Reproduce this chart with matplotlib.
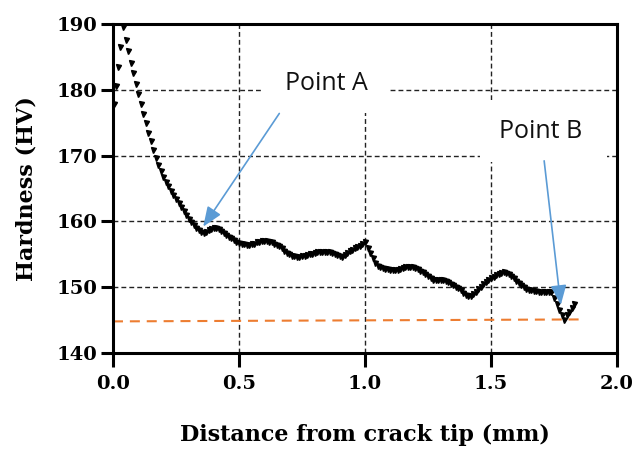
import matplotlib as mpl
import matplotlib.pyplot as plt
import numpy as np
from matplotlib.patches import Rectangle


#-------------------------------------------------------------------------------
# Hardness profile data
#-------------------------------------------------------------------------------

#Points right at the crack tip (rising part of the profile)
tip_distance = [0.005, 0.013, 0.021, 0.029]
tip_hardness = [177.8, 180.6, 183.5, 186.5]

#Main profile, sampled every 0.01 mm from 0.04 mm
profile_start = 0.04
profile_step = 0.01
profile_hardness = [
    189.5, 187.6, 185.9, 184.1, 182.5, 180.9, 179.3, 177.8, 176.3, 174.9,
    173.5, 172.2, 170.9, 169.7, 168.6, 167.6, 166.8, 166.0, 165.3, 164.6,
    164.0, 163.4, 162.8, 162.2, 161.6, 161.0, 160.4, 159.9, 159.4, 159.0,
    158.7, 158.4, 158.2, 158.4, 158.7, 158.9, 159.0, 159.0, 158.8, 158.5,
    158.2, 157.9, 157.6, 157.4, 157.2, 156.9, 156.7, 156.6, 156.5, 156.4,
    156.4, 156.5, 156.6, 156.8, 156.9, 157.0, 157.0, 157.0, 156.9, 156.8,
    156.6, 156.4, 156.2, 155.9, 155.5, 155.2, 155.0, 154.8, 154.7, 154.6,
    154.6, 154.7, 154.8, 154.9, 155.0, 155.1, 155.2, 155.3, 155.3, 155.3,
    155.3, 155.3, 155.3, 155.2, 155.1, 154.9, 154.7, 154.6, 154.9, 155.2,
    155.5, 155.7, 155.9, 156.1, 156.3, 156.5, 156.8, 156.0, 155.2, 154.4,
    153.7, 153.2, 153.0, 152.9, 152.8, 152.7, 152.6, 152.6, 152.6, 152.6,
    152.7, 152.9, 153.0, 153.1, 153.1, 153.0, 152.9, 152.7, 152.5, 152.3,
    152.0, 151.7, 151.4, 151.1, 151.1, 151.1, 151.1, 151.1, 151.0, 150.8,
    150.5, 150.3, 150.1, 149.8, 149.5, 149.1, 148.8, 148.6, 148.6, 148.9,
    149.3, 149.7, 150.1, 150.5, 150.8, 151.1, 151.4, 151.6, 151.8, 152.0,
    152.1, 152.3, 152.2, 152.0, 151.7, 151.4, 151.0, 150.7, 150.4, 150.1,
    149.7, 149.5, 149.5, 149.4, 149.4, 149.3, 149.3, 149.3, 149.3, 149.2,
    149.2, 148.3, 147.5, 146.6, 145.7, 145.0, 145.7, 146.3, 146.9, 147.5,
]

#Base metal hardness reference line
base_distance = [0.0, 1.87]
base_hardness = [144.8, 145.1]

#Annotated points (text position, arrow tail, arrow tip)
point_labels = ['Point A', 'Point B']
label_xy = [(0.845, 180.9), (1.698, 173.7)]
arrow_tail = [(0.66, 176.4), (1.711, 169.2)]
arrow_tip = [(0.358, 159.2), (1.777, 147.3)]
label_boxes = [(0.591, 176.5, 0.508, 13.5), (1.456, 169.0, 0.504, 9.45)]

x_ticks = [0.0, 0.5, 1.0, 1.5, 2.0]
y_ticks = [140, 150, 160, 170, 180, 190]


#-------------------------------------------------------------------------------
# Plot
#-------------------------------------------------------------------------------

mpl.rcParams['font.family'] = 'serif'
mpl.rcParams['font.serif'] = ['DejaVu Serif']
mpl.rcParams['font.weight'] = 'bold'
mpl.rcParams['axes.linewidth'] = 2.2

profile_distance = profile_start + profile_step * np.arange(len(profile_hardness))
distance = np.concatenate([tip_distance, profile_distance])
hardness = np.concatenate([tip_hardness, profile_hardness])

fig = plt.figure(figsize=(6.33, 4.53), dpi=100)
ax = fig.add_axes([0.1785, 0.2208, 0.7962, 0.7263])

#Grid behind everything
ax.set_axisbelow(True)
ax.grid(which='major', color='#222222', linestyle=(0, (3.5, 2.2)), linewidth=1.0)

#White label boxes hide the grid under the annotations
for (bx, by, bw, bh) in label_boxes:
    ax.add_patch(Rectangle((bx, by), bw, bh, facecolor='white', edgecolor='none', zorder=1))

#Hardness profile drawn as triangle markers
ax.plot(distance, hardness, linestyle='none', marker='v', markersize=3.6,
        color='black', zorder=3)

#Base metal level
ax.plot(base_distance, base_hardness, color='#ED7D31', linewidth=1.5,
        linestyle=(0, (4.8, 3.3)), zorder=2)

#Point labels and arrows
for label, txy, tail, tip in zip(point_labels, label_xy, arrow_tail, arrow_tip):
    ax.text(txy[0], txy[1], label, ha='center', va='center', fontsize=18,
            family='Open Sans', weight='normal', color='#111111', zorder=4)
    ax.annotate('', xy=tip, xytext=tail,
                arrowprops=dict(arrowstyle='-|>,head_length=1.0,head_width=0.4',
                                mutation_scale=12, color='#5B9BD5', linewidth=1.2,
                                shrinkA=0, shrinkB=0),
                zorder=4)

#Axis ranges and ticks
ax.set_xlim(0, 2.0)
ax.set_ylim(140, 190)
ax.set_xticks(x_ticks)
ax.set_yticks(y_ticks)
ax.xaxis.set_major_formatter(mpl.ticker.FormatStrFormatter('%.1f'))
ax.tick_params(axis='x', which='major', direction='out', length=10, width=2.2,
               labelsize=14, pad=6)
ax.tick_params(axis='y', which='major', direction='out', length=9, width=2.2,
               labelsize=14, pad=2)

#Axis labels
ax.set_xlabel('Distance from crack tip (mm)', fontsize=16, weight='bold', labelpad=22)
ax.set_ylabel('Hardness (HV)', fontsize=16, weight='bold', labelpad=14)

plt.savefig('out.png', dpi=100)
